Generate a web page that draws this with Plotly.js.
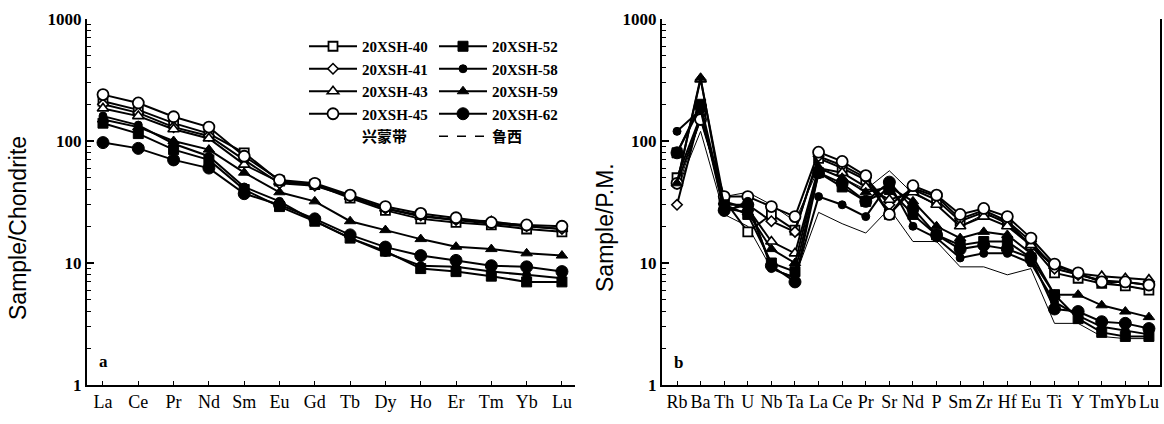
<!DOCTYPE html>
<html>
<head>
<meta charset="utf-8">
<script src="https://cdn.plot.ly/plotly-3.0.1.min.js"></script>
<style>html,body{margin:0;padding:0;background:#fff;}#chart{width:1164px;height:424px;}</style>
</head>
<body>
<div id="chart"></div>
<script>
// ---------- categories ----------
const reeElements = ['La','Ce','Pr','Nd','Sm','Eu','Gd','Tb','Dy','Ho','Er','Tm','Yb','Lu'];
const spiderElements = ['Rb','Ba','Th','U','Nb','Ta','La','Ce','Pr','Sr','Nd','P','Sm','Zr','Hf','Eu','Ti','Y','Tm','Yb','Lu'];
const yTickVals = [1, 10, 100, 1000];
const yTickText = ['1', '10', '100', '1000'];

// ---------- (a) chondrite-normalised REE ----------
const ree_40 = [212, 180, 140, 115, 80, 47, 44, 34, 27, 23, 21.5, 20.5, 19, 18];
const ree_41 = [200, 170, 130, 110, 70, 45, 43, 35, 28, 24.5, 22.5, 21, 20, 19];
const ree_43 = [185, 160, 125, 105, 64, 46, 44, 35, 28, 24, 22.5, 22, 20, 19];
const ree_45 = [240, 205, 158, 130, 75, 48, 45, 36, 29, 25.5, 23.5, 21.5, 20.5, 20];
const ree_52 = [140, 115, 85, 70, 40, 29, 22, 16, 12.5, 9, 8.5, 7.8, 7, 7];
const ree_58 = [160, 135, 95, 75, 42, 32, 22, 16, 12.2, 9.5, 9.3, 8.5, 8, 7.5];
const ree_59 = [150, 130, 100, 85, 55, 38, 32, 22, 18.6, 15.7, 13.6, 13, 12, 11.5];
const ree_62 = [97, 87, 70, 60, 37, 30, 23, 17, 13.5, 11.5, 10.5, 9.5, 9.3, 8.5];

// ---------- (b) primitive-mantle-normalised spider ----------
const pm_40 = [50, 160, 33, 18, 25, 18.6, 72, 60, 48, 25, 40, 33, 22, 26, 21, 14, 8.3, 7.5, 6.8, 6.5, 6];
const pm_41 = [30, 170, 30, 30, 22, 18, 75, 63, 50, 30, 41, 35, 23, 27, 22, 15, 9, 8, 7.2, 7, 6.6];
const pm_43 = [45, 320, 32, 28, 15, 12, 60, 55, 42, 33, 38, 30, 20, 24, 20, 14, 9.5, 8.2, 7.8, 7.5, 7.3];
const pm_45 = [45, 150, 35, 35, 29, 24, 81, 68, 52, 25, 43, 36, 25, 28, 24, 16, 9.8, 8.3, 7, 7, 6.6];
const pm_52 = [80, 200, 30, 25, 10, 8.5, 55, 42, 32, 40, 25, 17, 14, 15, 15, 11, 5.5, 3.5, 2.7, 2.5, 2.5];
const pm_58 = [120, 180, 26, 32, 9, 7.5, 35, 30, 24, 45, 20, 16, 11, 12, 12, 10, 4.8, 3.7, 3, 2.8, 2.6];
const pm_59 = [45, 330, 28, 26, 13, 10, 60, 50, 38, 42, 32, 20, 16, 18, 17, 12, 5.5, 5.5, 4.5, 4, 3.6];
const pm_62 = [80, 190, 27, 30, 9.5, 7, 55, 45, 32, 46, 28, 17, 13, 14, 13, 11, 4.2, 4, 3.3, 3.2, 2.9];
// 兴蒙带 reference lines (thin, no symbols)
const pm_xm_upper = [40, 150, 35, 38, 30, 22, 60, 50, 40, 57, 37, 30, 20, 25, 22, 14, 9, 8, 7, 6.5, 6];
const pm_xm_lower = [40, 120, 25, 20, 9, 7.7, 26, 21, 17.6, 28, 15, 15, 9.3, 9.3, 8, 9, 3.2, 3.2, 2.5, 2.4, 2.4];

const sampleNames = ['20XSH-40','20XSH-41','20XSH-43','20XSH-45','20XSH-52','20XSH-58','20XSH-59','20XSH-62'];
const reeSeries = [ree_40, ree_41, ree_43, ree_45, ree_52, ree_58, ree_59, ree_62];
const pmSeries = [pm_40, pm_41, pm_43, pm_45, pm_52, pm_58, pm_59, pm_62];

// ---------- styles ----------
const markerStyles = [
  {symbol:'square', size:9, color:'#fff', line:{color:'#000', width:1.8}},
  {symbol:'diamond', size:8, color:'#fff', line:{color:'#000', width:1.6}},
  {symbol:'triangle-up', size:10, color:'#fff', line:{color:'#000', width:1.6}},
  {symbol:'circle', size:11, color:'#fff', line:{color:'#000', width:1.8}},
  {symbol:'square', size:10, color:'#000', line:{color:'#000', width:1}},
  {symbol:'circle', size:8, color:'#000', line:{color:'#000', width:1}},
  {symbol:'triangle-up', size:10, color:'#000', line:{color:'#000', width:1}},
  {symbol:'circle', size:12, color:'#000', line:{color:'#000', width:1}}
];
const legendOf = ['legend','legend','legend','legend','legend2','legend2','legend2','legend2'];

const traces = [];
[pm_xm_upper, pm_xm_lower].forEach(function(v){
  traces.push({x: spiderElements, y: v, xaxis:'x2', yaxis:'y2', mode:'lines',
    line:{color:'#000', width:1}, showlegend:false, hoverinfo:'skip'});
});
sampleNames.forEach(function(name, i){
  traces.push({x: reeElements, y: reeSeries[i], xaxis:'x', yaxis:'y', mode:'lines+markers',
    name: name, legend: legendOf[i], legendgroup: name,
    line:{color:'#000', width:2}, marker: markerStyles[i]});
});
sampleNames.forEach(function(name, i){
  traces.push({x: spiderElements, y: pmSeries[i], xaxis:'x2', yaxis:'y2', mode:'lines+markers',
    name: name, legendgroup: name, showlegend:false,
    line:{color:'#000', width:2}, marker: markerStyles[i]});
});
traces.push({x:[reeElements[0]], y:[null], xaxis:'x', yaxis:'y', mode:'lines', name:'兴蒙带',
  legend:'legend', line:{color:'rgba(0,0,0,0)', width:1}});
traces.push({x:[reeElements[0]], y:[null], xaxis:'x', yaxis:'y', mode:'lines', name:'鲁西',
  legend:'legend2', line:{color:'#000', width:1.5, dash:'dash'}});

const W = 1164, H = 424;
const mt = 19, mb = 39;
const PH = H - mt - mb;
const serif = 'Liberation Serif, Times New Roman, Noto Sans CJK SC, serif';
const sans = 'Liberation Sans, Arial, sans-serif';

function yAxis(anchor, mirror){
  return {type:'log', range:[0, 3], tickvals: yTickVals, ticktext: yTickText,
    ticks:'inside', ticklen:7, tickwidth:1.5, tickcolor:'#000',
    minor:{ticks:'inside', ticklen:4, tickwidth:1, tickcolor:'#000', dtick:'D1'},
    showline:true, linecolor:'#000', linewidth:2, mirror: mirror, showgrid:false, zeroline:false,
    tickfont:{family: serif, size: 17, color:'#000', weight:'bold'}, anchor: anchor, domain:[0,1]};
}
function xAxis(cats, dom, range, anchor){
  return {type:'category', categoryorder:'array', categoryarray: cats, range: range, domain: dom,
    ticks:'inside', ticklen:4, tickwidth:1, tickcolor:'#000', showline:true, linecolor:'#000', linewidth:1.5,
    tickangle: 0, showgrid:false, zeroline:false, tickfont:{family: serif, size: 18, color:'#000'}, anchor: anchor};
}

const legendCommon = {bgcolor:'rgba(0,0,0,0)', borderwidth:0, orientation:'v', yanchor:'top', xanchor:'left',
  font:{family: serif, size: 15, color:'#000', weight:'bold'}, itemwidth: 48, tracegroupgap: 0,
  itemclick:false, itemdoubleclick:false};

const layout = {
  width: W, height: H, paper_bgcolor:'#fff', plot_bgcolor:'#fff',
  margin:{l:0, r:0, t:mt, b:mb},
  showlegend:true,
  xaxis: xAxis(reeElements, [87/W, 575/W], [-0.453, 13.37], 'y'),
  yaxis: yAxis('x', false),
  xaxis2: xAxis(spiderElements, [662/W, 1160/W], [-0.636, 20.47], 'y2'),
  yaxis2: yAxis('x2', true),
  legend: Object.assign({}, legendCommon, {x: 304/W, y: 1 - (30-mt)/PH}),
  legend2: Object.assign({}, legendCommon, {x: 434/W, y: 1 - (30-mt)/PH}),
  annotations: [
    {text:'Sample/Chondrite', xref:'paper', yref:'paper', x: 18/W, y: 1 - (228-mt)/PH, textangle:-90, showarrow:false,
      xanchor:'center', yanchor:'middle', font:{family: sans, size:23, color:'#000'}},
    {text:'Sample/P.M.', xref:'paper', yref:'paper', x: 605/W, y: 1 - (228-mt)/PH, textangle:-90, showarrow:false,
      xanchor:'center', yanchor:'middle', font:{family: sans, size:23, color:'#000'}},
    {text:'a', xref:'paper', yref:'paper', x: 103/W, y: 1 - (361-mt)/PH, showarrow:false,
      xanchor:'center', yanchor:'middle', font:{family: serif, size:17, color:'#000', weight:'bold'}},
    {text:'b', xref:'paper', yref:'paper', x: 678/W, y: 1 - (362-mt)/PH, showarrow:false,
      xanchor:'center', yanchor:'middle', font:{family: serif, size:17, color:'#000', weight:'bold'}}
  ]
};

Plotly.newPlot('chart', traces, layout, {displayModeBar:false, staticPlot:true});
</script>
</body>
</html>
